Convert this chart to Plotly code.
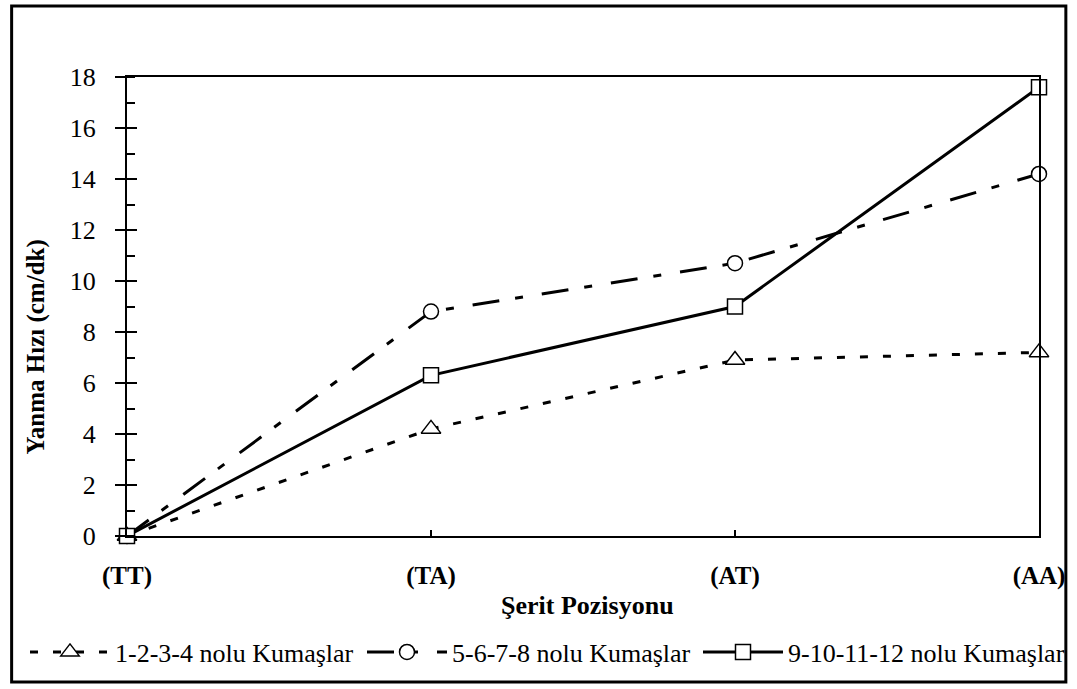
import plotly.graph_objects as go

categories = ["(TT)", "(TA)", "(AT)", "(AA)"]
series_names = ["1-2-3-4 nolu Kumaşlar", "5-6-7-8 nolu Kumaşlar", "9-10-11-12 nolu Kumaşlar"]
s1 = [0, 4.2, 6.9, 7.2]
s2 = [0, 8.8, 10.7, 14.2]
s3 = [0, 6.3, 9.0, 17.6]
y_ticks = [0, 2, 4, 6, 8, 10, 12, 14, 16, 18]

FONT = "'Liberation Serif', 'Times New Roman', Times, serif"
W, H = 1077, 689
L, R, T, B = 127, 33, 77, 153
pw, ph = W - L - R, H - T - B

def px2paper_x(px):
    return (px - L) / pw

def px2paper_y(py):
    return (H - B - py) / ph

fig = go.Figure()

fig.add_trace(go.Scatter(
    x=categories, y=s1, name=series_names[0], mode="lines+markers",
    line=dict(color="black", width=3, dash="8px,15px"),
    marker=dict(symbol="triangle-up", size=17, color="white", line=dict(color="black", width=1.5)),
    cliponaxis=False, legend="legend",
))
fig.add_trace(go.Scatter(
    x=categories, y=s2, name=series_names[1], mode="lines+markers",
    line=dict(color="black", width=3, dash="27px,16px,8px,19px"),
    marker=dict(symbol="circle", size=15, color="white", line=dict(color="black", width=1.5)),
    cliponaxis=False, legend="legend2",
))
fig.add_trace(go.Scatter(
    x=categories, y=s3, name=series_names[2], mode="lines+markers", yaxis="y2",
    line=dict(color="black", width=3),
    marker=dict(symbol="square", size=15, color="white", line=dict(color="black", width=1.5)),
    cliponaxis=False, legend="legend3",
))

def legend_at(px_left):
    return dict(
        orientation="h", xref="container", yref="container",
        x=px_left / W, xanchor="left", y=(H - 652) / H, yanchor="middle",
        font=dict(family=FONT, size=26, color="black"),
        itemwidth=80, bgcolor="rgba(0,0,0,0)",
    )

fig.update_layout(
    width=W, height=H,
    margin=dict(l=L, r=R, t=T, b=B, pad=0),
    paper_bgcolor="white", plot_bgcolor="white",
    font=dict(family=FONT, color="black"),
    showlegend=True,
    legend=legend_at(25),
    legend2=legend_at(362),
    legend3=legend_at(698),
    xaxis=dict(
        type="category", range=[0, 3], showgrid=False, zeroline=False,
        showline=True, linecolor="black", linewidth=2, mirror=True,
        ticks="inside", ticklen=6, tickwidth=1.5, tickcolor="black",
        tickfont=dict(family=FONT, size=25, color="black", weight="bold"),
        ticklabelstandoff=16,
    ),
    yaxis=dict(
        range=[0, 18], tickvals=y_ticks, showgrid=False, zeroline=False,
        showline=True, linecolor="black", linewidth=2, mirror=True,
        ticks="outside", ticklen=10, tickwidth=1.5, tickcolor="black",
        tickfont=dict(family=FONT, size=26, color="black"),
        ticklabelstandoff=14,
        minor=dict(dtick=1, ticks="inside", ticklen=8, tickwidth=1.5, tickcolor="black", showgrid=False),
    ),
    yaxis2=dict(
        range=[0, 18], tickvals=y_ticks, overlaying="y", side="left", anchor="x",
        showgrid=False, zeroline=False, showline=False,
        ticks="inside", ticklen=10, tickwidth=1.5, tickcolor="black",
        showticklabels=False,
    ),
    annotations=[
        dict(text="Şerit Pozisyonu", xref="paper", yref="paper",
             x=px2paper_x(590), y=px2paper_y(605), xanchor="center", yanchor="middle",
             showarrow=False, font=dict(family=FONT, size=26, color="black", weight="bold")),
        dict(text="Yanma Hızı (cm/dk)", xref="paper", yref="paper", textangle=-90,
             x=px2paper_x(36), y=px2paper_y(347), xanchor="center", yanchor="middle",
             showarrow=False, font=dict(family=FONT, size=25, color="black", weight="bold")),
    ],
    shapes=[
        dict(type="rect", xref="paper", yref="paper",
             x0=px2paper_x(11), x1=px2paper_x(1071), y0=px2paper_y(682), y1=px2paper_y(6),
             line=dict(color="black", width=3), fillcolor="rgba(0,0,0,0)", layer="below"),
    ],
)

fig.write_html("out.html")
